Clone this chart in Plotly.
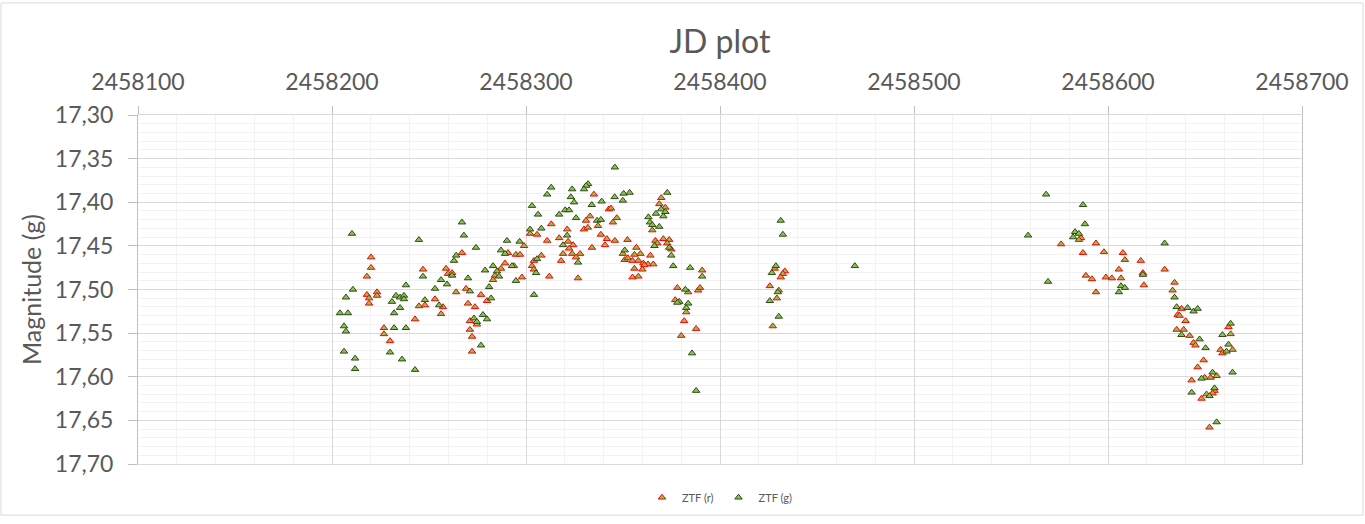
import plotly.graph_objects as go

# ---- data ----
r_jd = [2458220.1, 2458220.1, 2458218.0, 2458218.0, 2458219.1, 2458219.1, 2458223.2, 2458223.2,
        2458226.8, 2458226.8, 2458229.9, 2458242.8, 2458244.8, 2458247.9, 2458246.9, 2458253.1,
        2458257.2, 2458256.2, 2458258.8, 2458259.8, 2458261.9, 2458264.0, 2458267.0, 2458269.1,
        2458270.1, 2458273.7, 2458271.1, 2458271.1, 2458272.2, 2458272.2, 2458274.7, 2458276.8,
        2458279.9, 2458283.0, 2458284.0, 2458287.1, 2458289.2, 2458290.7, 2458293.8, 2458294.8,
        2458296.9, 2458297.9, 2458299.0, 2458302.1, 2458305.7, 2458303.1, 2458304.1, 2458304.1,
        2458335.0, 2458333.0, 2458330.9, 2458329.9, 2458331.9, 2458337.1, 2458342.7, 2458343.8,
        2458346.8, 2458344.8, 2458313.0, 2458321.2, 2458338.6, 2458341.7, 2458345.8, 2458340.7,
        2458334.0, 2458352.3, 2458317.1, 2458310.9, 2458321.7, 2458324.3, 2458322.2, 2458319.1,
        2458323.8, 2458327.9, 2458325.8, 2458318.1, 2458326.8, 2458312.0, 2458307.9, 2458349.9,
        2458350.9, 2458352.5,
        2458369.7, 2458368.7, 2458371.8, 2458365.1, 2458366.7, 2458367.7, 2458370.8, 2458373.8,
        2458372.8, 2458374.9, 2458356.9, 2458359.0, 2458355.9, 2458364.1, 2458354.9, 2458357.9,
        2458360.5, 2458362.9, 2458365.6, 2458361.0, 2458355.9, 2458360.0, 2458354.9, 2458357.9,
        2458390.8, 2458378.0, 2458383.6, 2458388.7, 2458389.7, 2458376.9, 2458382.6,
        2458381.5, 2458387.7, 2458380.0,
        2458433.4, 2458432.4, 2458431.3, 2458428.2, 2458425.7, 2458430.3, 2458429.3, 2458427.2,
        2458586.1, 2458585.0, 2458575.8, 2458593.8, 2458587.1, 2458597.9, 2458607.7, 2458608.7,
        2458616.9, 2458605.6, 2458618.0, 2458588.6, 2458591.7, 2458598.9, 2458602.0, 2458606.7,
        2458618.5, 2458593.8,
        2458629.2, 2458634.3, 2458633.3, 2458637.9, 2458635.9, 2458636.9, 2458640.0, 2458635.4,
        2458639.0, 2458642.1, 2458644.1, 2458645.1, 2458662.1, 2458663.2, 2458658.0, 2458659.0,
        2458664.2, 2458649.3, 2458646.2, 2458643.1, 2458649.8, 2458652.9, 2458656.0, 2458654.9,
        2458653.9, 2458650.8, 2458648.2, 2458652.3]
r_mag = [17.463, 17.475, 17.485, 17.506, 17.510, 17.516, 17.503, 17.507,
         17.544, 17.551, 17.559, 17.534, 17.519, 17.518, 17.477, 17.511,
         17.520, 17.528, 17.476, 17.482, 17.481, 17.503, 17.458, 17.499,
         17.516, 17.520, 17.536, 17.546, 17.554, 17.571, 17.540, 17.506,
         17.513, 17.489, 17.484, 17.476, 17.470, 17.458, 17.473, 17.460,
         17.460, 17.486, 17.450, 17.436, 17.437, 17.473, 17.467, 17.477,
         17.391, 17.416, 17.421, 17.431, 17.429, 17.427, 17.408, 17.407,
         17.418, 17.423, 17.425, 17.431, 17.437, 17.442, 17.444, 17.449,
         17.452, 17.443, 17.441, 17.444, 17.445, 17.449, 17.453, 17.459,
         17.459, 17.459, 17.463, 17.467, 17.487, 17.485, 17.461, 17.459,
         17.466, 17.464,
         17.395, 17.402, 17.406, 17.432, 17.444, 17.447, 17.442, 17.443,
         17.447, 17.454, 17.452, 17.459, 17.460, 17.461, 17.467, 17.467,
         17.470, 17.471, 17.471, 17.472, 17.476, 17.477, 17.486, 17.485,
         17.478, 17.498, 17.503, 17.501, 17.498, 17.512, 17.526,
         17.536, 17.545, 17.553,
         17.479, 17.482, 17.486, 17.476, 17.496, 17.501, 17.510, 17.542,
         17.441, 17.443, 17.448, 17.447, 17.458, 17.457, 17.458, 17.466,
         17.467, 17.477, 17.481, 17.484, 17.488, 17.486, 17.487, 17.487,
         17.495, 17.503,
         17.477, 17.492, 17.501, 17.522, 17.529, 17.530, 17.536, 17.546,
         17.546, 17.553, 17.561, 17.564, 17.543, 17.551, 17.569, 17.573,
         17.569, 17.581, 17.589, 17.604, 17.601, 17.601, 17.599, 17.616,
         17.619, 17.620, 17.625, 17.658]

g_jd = [2458210.3, 2458207.2, 2458204.1, 2458208.2, 2458206.2, 2458207.2, 2458206.2, 2458211.9,
        2458211.9, 2458210.8, 2458238.1, 2458233.0, 2458235.1, 2458237.1, 2458237.1, 2458230.9,
        2458232.0, 2458235.1, 2458232.0, 2458238.1, 2458229.9, 2458236.1, 2458242.8, 2458244.8,
        2458246.9, 2458247.9, 2458253.1, 2458256.2, 2458259.3, 2458255.2, 2458261.9, 2458262.9,
        2458264.0, 2458267.0, 2458268.0, 2458270.1, 2458271.1, 2458274.2, 2458273.2, 2458274.7,
        2458277.8, 2458279.9, 2458276.8, 2458278.9, 2458283.0, 2458282.0, 2458281.0, 2458285.1,
        2458286.1, 2458287.1, 2458289.2, 2458290.2, 2458292.8, 2458294.8, 2458296.7, 2458302.1,
        2458303.1, 2458305.2, 2458304.1, 2458306.2, 2458305.7,
        2458345.8, 2458313.0, 2458310.9, 2458323.8, 2458323.1, 2458324.8, 2458332.0, 2458331.0,
        2458329.9, 2458333.9, 2458339.0, 2458345.7, 2458350.3, 2458353.4, 2458349.9, 2458317.1,
        2458320.2, 2458322.2, 2458325.8, 2458336.6, 2458338.6, 2458307.9, 2458321.2, 2458319.1,
        2458326.8, 2458350.9,
        2458372.8, 2458369.7, 2458371.8, 2458367.0, 2458370.8, 2458363.1, 2458363.9, 2458365.1,
        2458368.7, 2458366.2, 2458373.8, 2458374.9, 2458375.9, 2458384.6, 2458390.8, 2458382.1,
        2458379.0, 2458378.0, 2458383.6, 2458382.6,
        2458385.6, 2458387.7,
        2458431.3, 2458432.4, 2458469.5, 2458428.8, 2458426.7, 2458429.8, 2458425.7, 2458430.3,
        2458568.1, 2458587.1, 2458588.1, 2458558.8, 2458583.0, 2458585.0, 2458582.0, 2458569.1,
        2458618.0, 2458606.7, 2458608.7, 2458605.6,
        2458629.2, 2458634.3, 2458635.4, 2458641.0, 2458644.1, 2458646.2, 2458637.9, 2458647.2,
        2458650.3, 2458663.2, 2458659.0, 2458662.1, 2458661.1, 2458653.9, 2458648.2, 2458664.2,
        2458643.1, 2458654.9, 2458652.3, 2458656.0]
g_mag = [17.436, 17.509, 17.527, 17.527, 17.542, 17.548, 17.571, 17.579,
         17.591, 17.500, 17.495, 17.507, 17.509, 17.507, 17.511, 17.514,
         17.527, 17.521, 17.544, 17.544, 17.572, 17.580, 17.592, 17.443,
         17.485, 17.512, 17.499, 17.489, 17.494, 17.518, 17.484, 17.467,
         17.461, 17.423, 17.438, 17.487, 17.502, 17.452, 17.533, 17.537,
         17.529, 17.534, 17.564, 17.478, 17.473, 17.510, 17.497, 17.479,
         17.485, 17.455, 17.459, 17.444, 17.473, 17.490, 17.445, 17.431,
         17.404, 17.481, 17.506, 17.414, 17.465,
         17.360, 17.383, 17.391, 17.385, 17.394, 17.400, 17.379, 17.381,
         17.385, 17.403, 17.399, 17.394, 17.390, 17.389, 17.398, 17.414,
         17.409, 17.409, 17.418, 17.421, 17.420, 17.430, 17.438, 17.449,
         17.469, 17.455,
         17.389, 17.408, 17.411, 17.413, 17.416, 17.417, 17.423, 17.426,
         17.428, 17.450, 17.452, 17.461, 17.473, 17.475, 17.485, 17.500,
         17.514, 17.515, 17.516, 17.521,
         17.573, 17.616,
         17.421, 17.437, 17.473, 17.473, 17.481, 17.503, 17.513, 17.531,
         17.391, 17.403, 17.425, 17.438, 17.434, 17.436, 17.440, 17.491,
         17.483, 17.496, 17.498, 17.503,
         17.447, 17.509, 17.520, 17.521, 17.525, 17.522, 17.552, 17.557,
         17.567, 17.539, 17.552, 17.563, 17.571, 17.595, 17.602, 17.595,
         17.618, 17.613, 17.622, 17.652]

series_names = ["ZTF (r)", "ZTF (g)"]
x_range = [2458100, 2458700]
y_range = [17.70, 17.30]

# ---- styling ----
FILL = "#8CC04F"
TXT = "#595959"
FONT = "Lato"
W, H = 1365, 524
ML, MR, MT, MB = 138, 63, 115, 54
PW, PH = W - ML - MR, H - MT - MB

fig = go.Figure()
fig.add_trace(go.Scatter(
    x=r_jd, y=r_mag, mode="markers", name=series_names[0],
    marker=dict(symbol="triangle-up", size=6.5, color=FILL,
                line=dict(color="#FF0000", width=1)),
))
fig.add_trace(go.Scatter(
    x=g_jd, y=g_mag, mode="markers", name=series_names[1],
    marker=dict(symbol="triangle-up", size=6.5, color=FILL,
                line=dict(color="#2E4A1A", width=1)),
))

fig.update_layout(
    width=W, height=H, autosize=False,
    margin=dict(l=ML, r=MR, t=MT, b=MB),
    paper_bgcolor="white", plot_bgcolor="white",
    separators=",.",
    font=dict(family=FONT, color=TXT),
    title=dict(text="JD plot", x=0.5, xanchor="center", xref="paper",
               y=1 - 42 / H, yref="container", yanchor="middle",
               font=dict(family=FONT, size=32, color=TXT)),
    showlegend=True,
    legend=dict(orientation="h", x=0.5, xanchor="center", y=-34 / PH, yanchor="middle",
                font=dict(family=FONT, size=11, color=TXT),
                itemsizing="trace", tracegroupgap=0, itemwidth=30),
    xaxis=dict(
        range=x_range, side="top", tick0=2458100, dtick=100, tickformat="d",
        showgrid=True, gridcolor="#D9D9D9", gridwidth=1,
        minor=dict(dtick=20, tick0=2458100, showgrid=True, gridcolor="#F2F2F2", ticks=""),
        ticks="outside", ticklen=8, tickcolor="#BFBFBF",
        showline=True, linecolor="#D9D9D9", mirror=True,
        tickfont=dict(family=FONT, size=23, color=TXT),
        ticklabelstandoff=7, zeroline=False,
    ),
    yaxis=dict(
        range=y_range, tick0=17.30, dtick=0.05, tickformat=".2f",
        showgrid=True, gridcolor="#D9D9D9", gridwidth=1,
        minor=dict(dtick=0.01, tick0=17.30, showgrid=True, gridcolor="#F2F2F2", ticks=""),
        ticks="outside", ticklen=9, tickcolor="#BFBFBF",
        showline=True, linecolor="#BFBFBF", mirror=True,
        tickfont=dict(family=FONT, size=23, color=TXT),
        ticklabelstandoff=10, zeroline=False,
        title=dict(text="Magnitude (g)", standoff=6,
                   font=dict(family=FONT, size=25, color=TXT)),
    ),
)

# outer chart-area border
fig.add_shape(type="rect", xref="paper", yref="paper",
              x0=-(ML - 1) / PW, x1=1 + (MR - 2) / PW,
              y0=-(MB - 2) / PH, y1=1 + (MT - 1) / PH,
              line=dict(color="#D9D9D9", width=1), fillcolor="rgba(0,0,0,0)", layer="below")

fig.write_html("out.html",
               config={"displayModeBar": False},
               post_script="document.body.style.margin='0px';document.body.style.overflow='hidden';")
